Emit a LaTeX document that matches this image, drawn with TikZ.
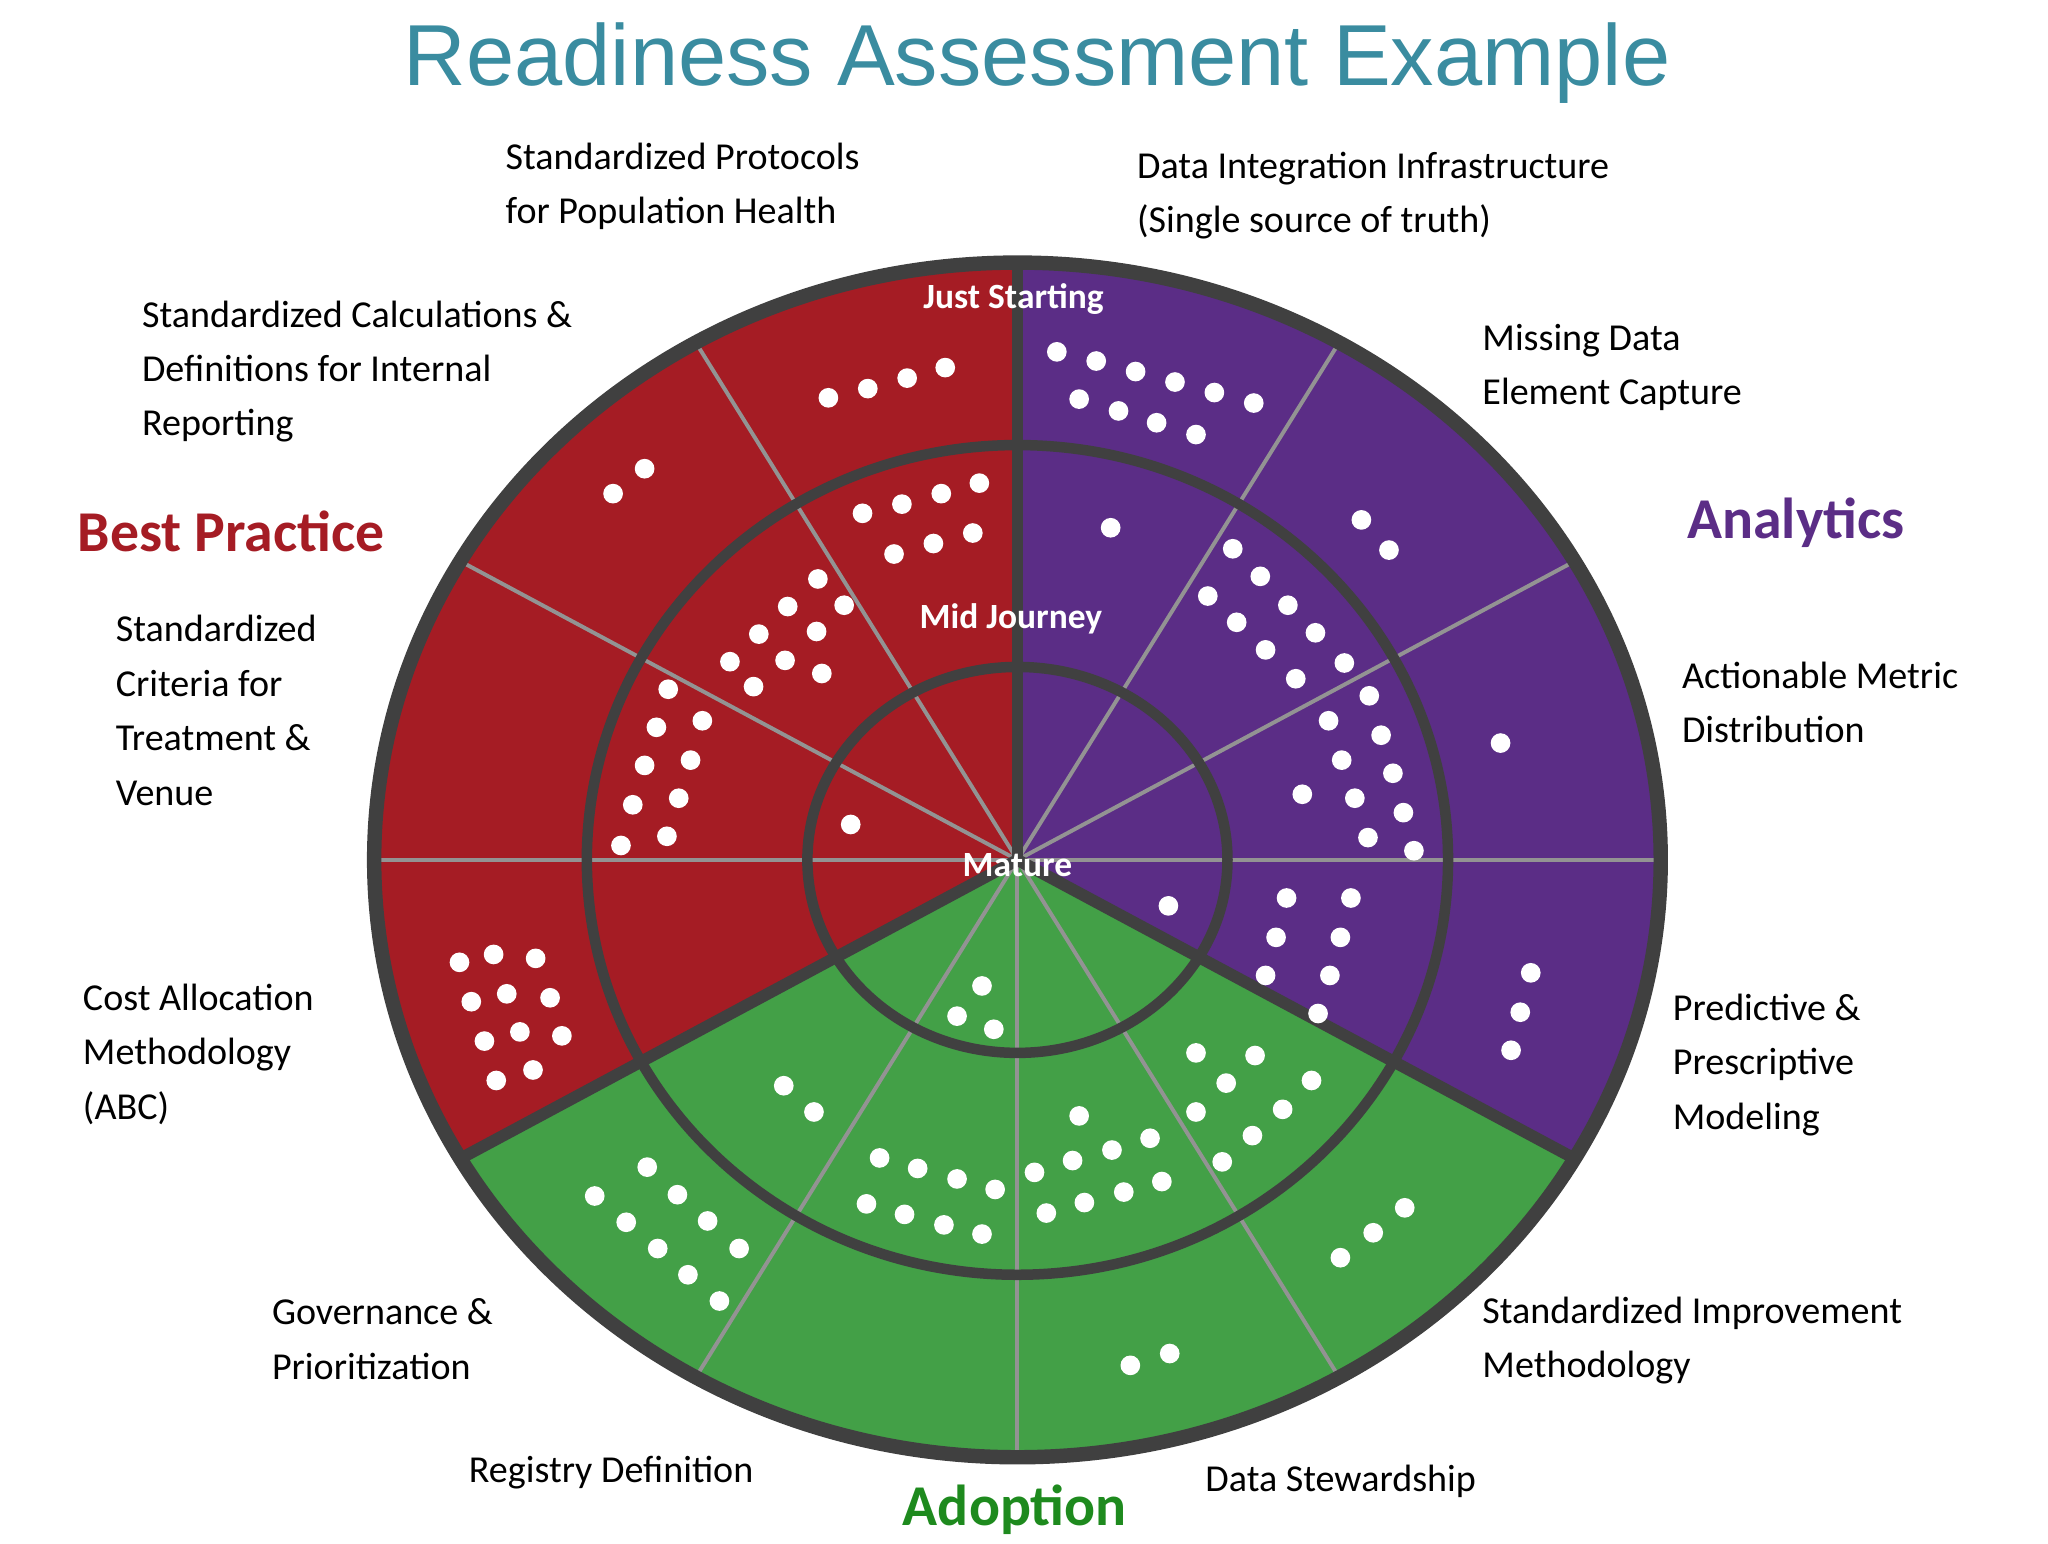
\documentclass[tikz,border=0pt]{standalone}
\usepackage{fontspec}
\setmainfont{Carlito}
\newfontfamily\titlefont{Liberation Sans}
\begin{document}
\begin{tikzpicture}[x=1pt,y=1pt,
  lab/.style={anchor=west,align=left,font=\fontsize{29}{41.5}\selectfont,text=black,inner sep=0pt},
  cat/.style={font=\fontsize{44}{50}\selectfont\bfseries,inner sep=0pt},
  ring/.style={font=\fontsize{27}{30}\selectfont\bfseries,text=white,inner sep=1pt},
  thin/.style={draw=gray!85,line width=3pt},
  thick/.style={draw=border,line width=9pt},
  dot/.style={fill=white}]
\definecolor{rd}{HTML}{A51C24}
\definecolor{pu}{HTML}{5B2D86}
\definecolor{gr}{HTML}{43A047}
\definecolor{border}{HTML}{404040}
\definecolor{tt}{HTML}{3A8CA0}
\definecolor{gtxt}{HTML}{1E8A1E}
\useasboundingbox (0,0) rectangle (1560,-1176);
\coordinate (c) at (775,-655);
\fill[rd] (c) -- +(90:490 and 455) arc[start angle=90,end angle=210,x radius=490,y radius=455] -- cycle;
\fill[gr] (c) -- +(210:490 and 455) arc[start angle=210,end angle=330,x radius=490,y radius=455] -- cycle;
\fill[pu] (c) -- +(330:490 and 455) arc[start angle=-30,end angle=90,x radius=490,y radius=455] -- cycle;
\foreach \a in {0,30,60,120,150,180,240,270,300}
  \draw[thin] (c) -- +(\a:490 and 455);
\foreach \a in {90,210,330}
  \draw[thick] (c) -- +(\a:490 and 455);
\draw[border,line width=8pt] (c) ellipse[x radius=160,y radius=147];
\draw[border,line width=8pt] (c) ellipse[x radius=328,y radius=316];
\draw[border,line width=11pt] (c) ellipse[x radius=490,y radius=455];
\foreach \x/\y in {631/303,661/296,691/288,720/280, 467/376,491/357,
 657/391,687/384,717/376,746/368,681/422,711/414,741/406,
 623/441,600/462,578/483,556/504,643/461,622/481,598/503,574/523,626/513,
 509/525,500/554,491/583,482/613,473/644,535/549,526/579,517/608,508/637,
 648/628,
 350/733,376/727,408/730,359/763,386/757,419/760,369/793,396/786,428/789,378/823,406/815,
 805/268,835/275,865/283,895/291,925/299,955/307,822/304,852/313,881/322,911/331,
 1037/396,1058/419,846/402,
 939/418,960/439,981/461,1002/482,1024/505,920/454,942/474,964/495,987/517,
 1043/530,1052/560,1061/589,1069/619,1077/648,1012/549,1022/579,1032/608,1042/638,992/605,
 1143/566,
 980/684,1029/684,972/714,1021/714,964/743,1013/743,1004/772,890/690,
 1166/741,1158/771,1151/800,
 748/751,729/774,757/784,
 597/827,620/847,
 493/889,516/910,539/930,563/951,453/911,477/931,501/951,524/971,548/991,
 670/882,699/890,729/898,758/906,660/917,689/925,719/933,748/940,
 822/850,788/893,817/884,847/876,876/867,797/924,826/916,856/908,885/900,
 911/802,956/804,934/825,999/823,911/847,977/845,954/865,931/885,
 1021/958,1046/939,1070/920, 861/1040,891/1031}
  \fill[dot] (\x,-\y) circle (7.5);
\node[ring] (js) at (772,-228) {Just Starting};
\node[ring] (mj) at (770,-471) {Mid Journey};
\node[ring] (ma) at (775,-659) {Mature};
\node[font=\titlefont\fontsize{66}{70}\selectfont,text=tt] (title) at (790,-48) {Readiness Assessment Example};
\node[cat,text=rd] (bp) at (176,-405) {Best Practice};
\node[cat,text=pu] (an) at (1368,-398) {Analytics};
\node[cat,text=gtxt] (ad) at (773,-1150) {Adoption};
\node[lab] (l1) at (385,-142) {Standardized Protocols\\for Population Health};
\node[lab] (l2) at (866,-149) {Data Integration Infrastructure\\(Single source of truth)};
\node[lab] (l3) at (108,-283) {Standardized Calculations \&\\Definitions for Internal\\Reporting};
\node[lab] (l4) at (1129,-280) {Missing Data\\Element Capture};
\node[lab] (l5) at (88,-541) {Standardized\\Criteria for\\Treatment \&\\Venue};
\node[lab] (l6) at (1281,-535) {Actionable Metric\\Distribution};
\node[lab] (l7) at (63,-803) {Cost Allocation\\Methodology\\(ABC)};
\node[lab] (l8) at (1274,-811) {Predictive \&\\Prescriptive\\Modeling};
\node[lab] (l9) at (207,-1020) {Governance \&\\Prioritization};
\node[lab] (l10) at (1129,-1021) {Standardized Improvement\\Methodology};
\node[lab] (l11) at (357,-1122) {Registry Definition};
\node[lab] (l12) at (918,-1128) {Data Stewardship};
\end{tikzpicture}
\end{document}
